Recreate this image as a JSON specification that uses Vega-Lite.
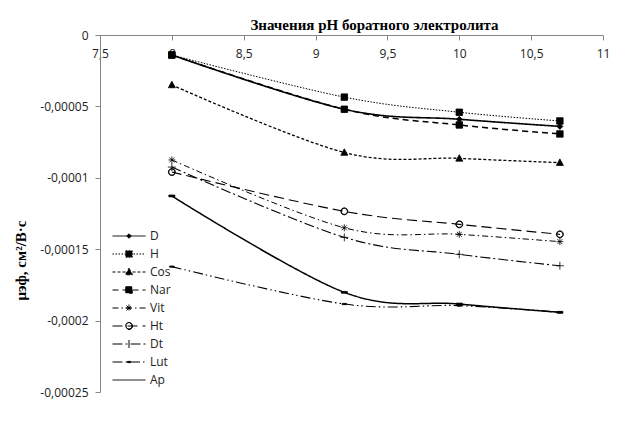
{
  "$schema": "https://vega.github.io/schema/vega-lite/v6.json",
  "width": 503,
  "height": 357,
  "autosize": {"type": "none"},
  "padding": {"left": 100, "top": 35, "right": 22, "bottom": 33},
  "background": "white",
  "config": {"view": {"stroke": null}},
  "title": {
    "text": "Значения pH боратного электролита",
    "font": "Liberation Serif",
    "fontSize": 15,
    "fontWeight": "bold",
    "color": "black",
    "anchor": "middle",
    "frame": "group",
    "offset": -4,
    "dx": 23
  },
  "data": {
    "values": [
      {"s": "D", "x": 8, "y": -0.000014},
      {"s": "D", "x": 9.2, "y": -0.000052},
      {"s": "D", "x": 10, "y": -0.000059},
      {"s": "D", "x": 10.7, "y": -0.000064},
      {"s": "H", "x": 8, "y": -0.000014},
      {"s": "H", "x": 9.2, "y": -0.0000435},
      {"s": "H", "x": 10, "y": -0.0000541},
      {"s": "H", "x": 10.7, "y": -0.0000602},
      {"s": "Cos", "x": 8, "y": -0.000035},
      {"s": "Cos", "x": 9.2, "y": -0.0000823},
      {"s": "Cos", "x": 10, "y": -0.0000864},
      {"s": "Cos", "x": 10.7, "y": -0.0000894},
      {"s": "Nar", "x": 8, "y": -0.000014},
      {"s": "Nar", "x": 9.2, "y": -0.000052},
      {"s": "Nar", "x": 10, "y": -0.000063},
      {"s": "Nar", "x": 10.7, "y": -0.0000693},
      {"s": "Vit", "x": 8, "y": -0.0000875},
      {"s": "Vit", "x": 9.2, "y": -0.000135},
      {"s": "Vit", "x": 10, "y": -0.0001396},
      {"s": "Vit", "x": 10.7, "y": -0.0001447},
      {"s": "Ht", "x": 8, "y": -0.0000960},
      {"s": "Ht", "x": 9.2, "y": -0.0001235},
      {"s": "Ht", "x": 10, "y": -0.0001326},
      {"s": "Ht", "x": 10.7, "y": -0.0001396},
      {"s": "Dt", "x": 8, "y": -0.0000925},
      {"s": "Dt", "x": 9.2, "y": -0.0001417},
      {"s": "Dt", "x": 10, "y": -0.0001536},
      {"s": "Dt", "x": 10.7, "y": -0.0001616},
      {"s": "Lut", "x": 8, "y": -0.0001622},
      {"s": "Lut", "x": 9.2, "y": -0.0001884},
      {"s": "Lut", "x": 10, "y": -0.0001895},
      {"s": "Lut", "x": 10.7, "y": -0.0001942},
      {"s": "Ap", "x": 8, "y": -0.0001127},
      {"s": "Ap", "x": 9.2, "y": -0.0001802},
      {"s": "Ap", "x": 10, "y": -0.0001884},
      {"s": "Ap", "x": 10.7, "y": -0.0001942}
    ]
  },
  "encoding": {
    "x": {
      "field": "x",
      "type": "quantitative",
      "scale": {"domain": [7.5, 11], "nice": false, "zero": false},
      "axis": {
        "orient": "bottom",
        "offset": -357,
        "values": [7.5, 8, 8.5, 9, 9.5, 10, 10.5, 11],
        "labelExpr": "replace(toString(datum.value), '.', ',')",
        "title": null,
        "grid": false,
        "domainColor": "#868686",
        "tickColor": "#868686",
        "tickSize": 5,
        "labelPadding": 8,
        "labelFont": "Open Sans",
        "labelFontSize": 12,
        "labelColor": "#222222",
        "labelFlush": false
      }
    },
    "y": {
      "field": "y",
      "type": "quantitative",
      "scale": {"domain": [-0.00025, 0], "nice": false, "zero": false},
      "axis": {
        "orient": "left",
        "values": [0, -0.00005, -0.0001, -0.00015, -0.0002, -0.00025],
        "labelExpr": "replace(toString(datum.value), '.', ',')",
        "grid": false,
        "domainColor": "#868686",
        "tickColor": "#868686",
        "tickSize": 5,
        "labelPadding": 7,
        "labelFont": "Open Sans",
        "labelFontSize": 12,
        "labelColor": "#222222",
        "labelFlush": false,
        "title": "μэф, см²/В·с",
        "titleFont": "Liberation Serif",
        "titleFontSize": 15,
        "titleFontWeight": "bold",
        "titleColor": "black",
        "titleX": -72,
        "titleY": 225,
        "titleAngle": 270,
        "titleBaseline": "bottom",
        "titleAlign": "center"
      }
    }
  },
  "layer": [
    {
      "mark": {"type": "line", "interpolate": "cardinal", "color": "black"},
      "encoding": {
        "strokeDash": {
          "field": "s",
          "type": "nominal",
          "scale": {
            "domain": ["Ap", "Cos", "D", "Dt", "H", "Ht", "Lut", "Nar", "Vit"],
            "range": [[1, 0], [3, 2], [1, 0], [10, 3, 2, 3], [1.5, 1.5], [10, 5], [10, 3, 1.5, 3, 1.5, 3], [6, 4], [6, 3, 1.5, 3]]
          },
          "legend": null
        },
        "strokeWidth": {
          "field": "s",
          "type": "nominal",
          "scale": {
            "type": "ordinal",
            "domain": ["Ap", "Cos", "D", "Dt", "H", "Ht", "Lut", "Nar", "Vit"],
            "range": [1.5, 1.3, 1.6, 1.1, 1, 1.1, 1.1, 1.5, 1]
          },
          "legend": null
        }
      }
    },
    {
      "mark": {"type": "point", "filled": true, "color": "black", "stroke": "black", "strokeWidth": 0.8, "opacity": 1, "size": 100},
      "encoding": {
        "shape": {
          "field": "s",
          "type": "nominal",
          "scale": {
            "domain": ["Ap", "Cos", "D", "Dt", "H", "Ht", "Lut", "Nar", "Vit"],
            "range": [
              "M-0.6,-0.18H0.6V0.18H-0.6Z",
              "M0,-0.75L0.7,0.55H-0.7Z",
              "M0,-0.6L0.6,0L0,0.6L-0.6,0Z",
              "M-0.8,0H0.8M0,-0.8V0.8",
              "M-0.65,-0.65H0.65V0.65H-0.65Z",
              "M0.7,0A0.7,0.7 0 1,0 -0.7,0A0.7,0.7 0 1,0 0.7,0ZM0.6,0A0.6,0.6 0 1,1 -0.6,0A0.6,0.6 0 1,1 0.6,0Z",
              "M-0.45,-0.12H0.45V0.12H-0.45Z",
              "M-0.65,-0.65H0.65V0.65H-0.65Z",
              "M-0.7,0H0.7M0,-0.7V0.7M-0.5,-0.5L0.5,0.5M-0.5,0.5L0.5,-0.5"
            ]
          },
          "legend": null
        }
      }
    },
    {
      "mark": {"type": "point", "filled": true, "color": "black", "stroke": "black", "strokeWidth": 1, "opacity": 0, "size": 100},
      "encoding": {
        "shape": {
          "field": "s",
          "type": "nominal",
          "scale": {
            "domain": ["D", "H", "Cos", "Nar", "Vit", "Ht", "Dt", "Lut", "Ap"],
            "range": [
              "M-3.3,0H3.3M0,-0.45L0.45,0L0,0.45L-0.45,0Z",
              "M-3.3,0H3.3M-0.65,-0.65H0.65V0.65H-0.65Z",
              "M-3.3,0H3.3M0,-0.75L0.7,0.55H-0.7Z",
              "M-3.3,0H3.3M-0.65,-0.65H0.65V0.65H-0.65Z",
              "M-3.3,0H3.3M-0.7,0H0.7M0,-0.7V0.7M-0.5,-0.5L0.5,0.5M-0.5,0.5L0.5,-0.5",
              "M-3.3,0H3.3M0.7,0A0.7,0.7 0 1,0 -0.7,0A0.7,0.7 0 1,0 0.7,0ZM0.6,0A0.6,0.6 0 1,1 -0.6,0A0.6,0.6 0 1,1 0.6,0Z",
              "M-3.3,0H3.3M0,-0.8V0.8",
              "M-3.3,0H3.3M-0.3,-0.12H0.3V0.12H-0.3Z",
              "M-3.3,0H3.3"
            ]
          },
          "legend": {
            "title": null,
            "orient": "none",
            "legendX": 23,
            "legendY": 195,
            "padding": 0,
            "symbolSize": 100,
            "symbolStrokeWidth": 1,
            "symbolOpacity": 1,
            "labelOffset": 15,
            "labelFont": "Open Sans",
            "labelFontSize": 12,
            "labelColor": "#222222",
            "rowPadding": 6
          }
        },
        "strokeDash": {
          "field": "s",
          "type": "nominal",
          "scale": {
            "domain": ["D", "H", "Cos", "Nar", "Vit", "Ht", "Dt", "Lut", "Ap"],
            "range": [[1, 0], [1.5, 1.5], [3, 2], [6, 4], [6, 3, 1.5, 3], [10, 5], [10, 3, 2, 3], [10, 3, 1.5, 3], [1, 0]]
          },
          "legend": {
            "title": null,
            "orient": "none",
            "legendX": 23,
            "legendY": 195,
            "padding": 0,
            "symbolSize": 100,
            "symbolStrokeWidth": 1,
            "symbolOpacity": 1,
            "labelOffset": 15,
            "labelFont": "Open Sans",
            "labelFontSize": 12,
            "labelColor": "#222222",
            "rowPadding": 6
          }
        }
      }
    }
  ],
  "resolve": {
    "scale": {"shape": "independent", "strokeDash": "independent"},
    "legend": {"shape": "independent", "strokeDash": "independent"}
  }
}
